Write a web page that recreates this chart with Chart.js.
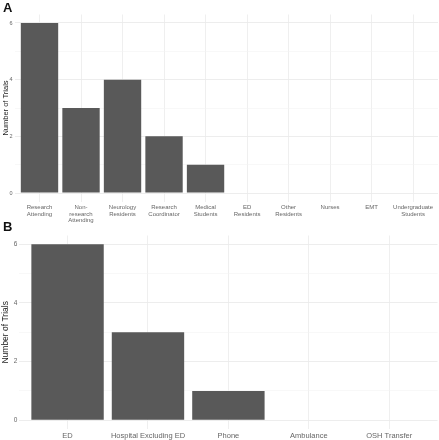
<!DOCTYPE html>
<html>
<head>
<meta charset="utf-8">
<script src="https://cdn.jsdelivr.net/npm/chart.js@4"></script>
<style>
  html, body { margin: 0; padding: 0; background: #fff; }
  body { width: 439px; height: 440px; position: relative; overflow: hidden; font-family: "Liberation Sans", Arial, sans-serif; }
  .wrap { position: absolute; left: 0; width: 439px; }
  .tag { position: absolute; left: 3px; font-weight: bold; font-size: 13px; color: #111; }
</style>
</head>
<body>
<div class="wrap" style="top:0;height:226px"><canvas id="chartA" width="439" height="226"></canvas></div>
<div class="wrap" style="top:218px;height:222px"><canvas id="chartB" width="439" height="222"></canvas></div>
<div class="tag" style="top:0px">A</div>
<div class="tag" style="top:219px">B</div>
<script>
// panel A: who enrolled
const rolesA = [
    ["Research", "Attending"], ["Non-", "research", "Attending"], ["Neurology", "Residents"],
    ["Research", "Coordinator"], ["Medical", "Students"], ["ED", "Residents"],
    ["Other", "Residents"], ["Nurses"], ["EMT"], ["Undergraduate", "Students"]
];
const trialsA = [6, 3, 4, 2, 1, 0, 0, 0, 0, 0];

// panel B: where enrolled
const placesB = ["ED", "Hospital Excluding ED", "Phone", "Ambulance", "OSH Transfer"];
const trialsB = [6, 3, 1, 0, 0];

const yTicks = [0, 1, 2, 3, 4, 5, 6];

function makeChart(id, labels, values, opts) {
    const ctx = document.getElementById(id).getContext('2d');
    const points = values.map((v, i) => ({ x: i + 1, y: v }));
    return new Chart(ctx, {
        type: 'bar',
        data: {
            datasets: [{
                data: points,
                backgroundColor: '#595959',
                borderWidth: 0,
                barPercentage: 0.9,
                categoryPercentage: 1
            }]
        },
        options: {
            responsive: false,
            animation: false,
            layout: { padding: opts.padding },
            plugins: { legend: { display: false }, tooltip: { enabled: false } },
            scales: {
                x: {
                    type: 'linear',
                    offset: false,
                    min: 0.4,
                    max: labels.length + 0.6,
                    afterBuildTicks: s => { s.ticks = labels.map((l, i) => ({ value: i + 1 })); },
                    afterFit: s => { s.height = opts.xHeight; s.paddingLeft = 0; s.paddingRight = 0; },
                    border: { display: false },
                    grid: { offset: false, color: '#ebebeb', lineWidth: 0.8, drawTicks: false },
                    ticks: {
                        autoSkip: false, maxRotation: 0, minRotation: 0,
                        padding: opts.xPad,
                        color: '#666',
                        font: { family: 'Liberation Sans', size: opts.xFont, lineHeight: 1.05 },
                        callback: (v) => labels[Math.round(v) - 1]
                    }
                },
                y: {
                    min: -0.3,
                    max: 6.3,
                    afterBuildTicks: s => { s.ticks = yTicks.map(v => ({ value: v })); },
                    afterFit: s => { s.width = opts.yWidth; },
                    border: { display: false },
                    grid: {
                        drawTicks: false,
                        color: c => (c.tick && c.tick.value % 2 === 0) ? '#ebebeb' : '#f4f4f4',
                        lineWidth: c => (c.tick && c.tick.value % 2 === 0) ? 0.9 : 0.6
                    },
                    ticks: {
                        padding: 2,
                        color: '#666',
                        font: { family: 'Liberation Sans', size: opts.yFont },
                        callback: v => (v % 2 === 0 ? v : '')
                    },
                    title: {
                        display: true,
                        text: 'Number of Trials',
                        color: '#222',
                        padding: { top: 1, bottom: 0 },
                        font: { family: 'Liberation Sans', size: opts.titleFont }
                    }
                }
            }
        }
    });
}

makeChart('chartA', rolesA, trialsA, {
    padding: { top: 14.5, right: 1, left: 0, bottom: 0 },
    xHeight: 226 - 201.5, xPad: 3, xFont: 6,
    yWidth: 14.6, yFont: 5.5, titleFont: 7.5
});

makeChart('chartB', placesB, trialsB, {
    padding: { top: 17.5, right: 1.5, left: 0, bottom: 0 },
    xHeight: 222 - 211.1, xPad: 3, xFont: 7.5,
    yWidth: 19.3, yFont: 6.5, titleFont: 8.5
});
</script>
</body>
</html>
